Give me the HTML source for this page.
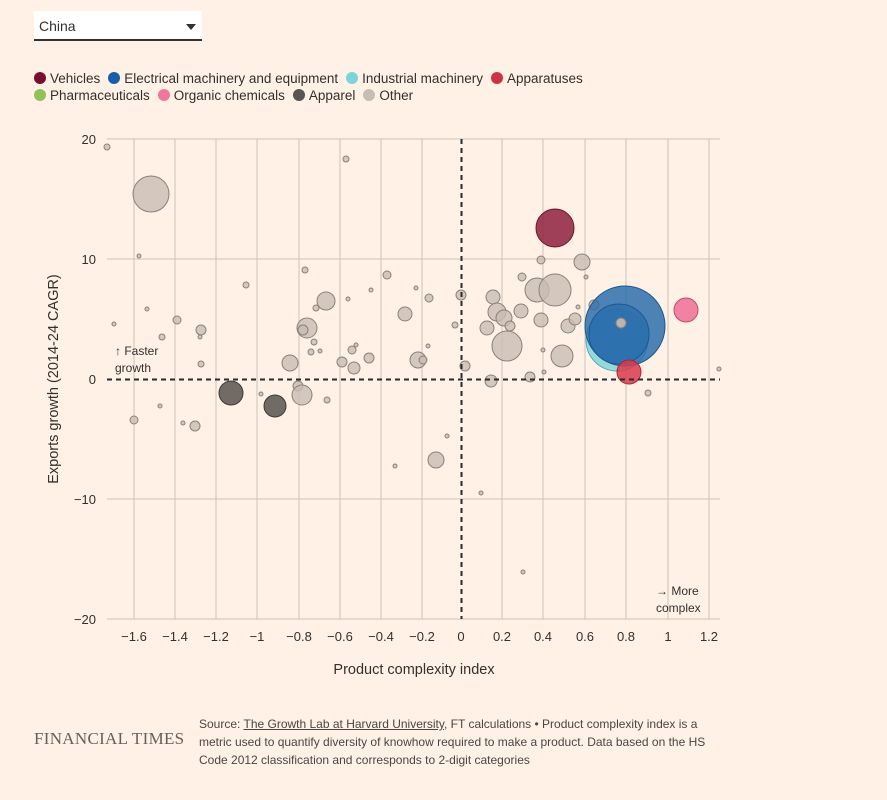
<!DOCTYPE html>
<html><head><style>
body{margin:0;background:#fff1e5;width:887px;height:800px;font-family:"Liberation Sans",sans-serif;color:#33302e;overflow:hidden;position:relative}
.sel{position:absolute;left:34px;top:11px;width:168px;height:30px;background:#fff;border-bottom:2px solid #33302e;font-size:14px;line-height:30px;padding-left:5px;box-sizing:border-box}
.sel:after{content:"";position:absolute;right:6px;top:13px;border:5px solid transparent;border-top:6px solid #33302e}
.leg{position:absolute;left:34px;font-size:13.5px;white-space:nowrap}
.leg span{display:inline-block;width:12px;height:12px;border-radius:50%;vertical-align:-1px;margin-right:4px}
.leg b{font-weight:normal;margin-right:8px}
.src{position:absolute;left:199px;top:715px;font-size:12px;line-height:18px;width:525px;color:#4a4644}
.ft{position:absolute;left:34px;top:729px;font-family:"Liberation Serif",serif;font-size:17px;color:#66605c;letter-spacing:.3px}
</style></head><body>
<div class="sel">China</div>
<div class="leg" style="top:71px"><span style="background:#7a0d2c"></span><b>Vehicles</b><span style="background:#1b5ea8"></span><b>Electrical machinery and equipment</b><span style="background:#7ad6db"></span><b>Industrial machinery</b><span style="background:#cc3345"></span><b>Apparatuses</b></div>
<div class="leg" style="top:88px"><span style="background:#92c15a"></span><b>Pharmaceuticals</b><span style="background:#f0779b"></span><b>Organic chemicals</b><span style="background:#585450"></span><b>Apparel</b><span style="background:#c8bdb4"></span><b>Other</b></div>
<svg width="887" height="800" style="position:absolute;left:0;top:0" font-family="Liberation Sans,sans-serif">
<g stroke="#cdc2b8" stroke-width="1">
<line x1="107" x2="720" y1="139" y2="139"/><line x1="107" x2="720" y1="259" y2="259"/><line x1="107" x2="720" y1="499" y2="499"/><line x1="107" x2="720" y1="619" y2="619"/>
<line x1="134" x2="134" y1="139" y2="619"/><line x1="175" x2="175" y1="139" y2="619"/><line x1="216" x2="216" y1="139" y2="619"/><line x1="257" x2="257" y1="139" y2="619"/><line x1="299" x2="299" y1="139" y2="619"/><line x1="340" x2="340" y1="139" y2="619"/><line x1="381" x2="381" y1="139" y2="619"/><line x1="422" x2="422" y1="139" y2="619"/><line x1="502" x2="502" y1="139" y2="619"/><line x1="543" x2="543" y1="139" y2="619"/><line x1="585" x2="585" y1="139" y2="619"/><line x1="626" x2="626" y1="139" y2="619"/><line x1="668" x2="668" y1="139" y2="619"/><line x1="709" x2="709" y1="139" y2="619"/>
</g>
<g font-size="13" fill="#33302e" text-anchor="end">
<text x="96" y="144">20</text><text x="96" y="264">10</text><text x="96" y="384">0</text><text x="96" y="504">−10</text><text x="96" y="624">−20</text></g>
<g font-size="13" fill="#33302e" text-anchor="middle">
<text x="134" y="641">−1.6</text><text x="175" y="641">−1.4</text><text x="216" y="641">−1.2</text><text x="257" y="641">−1</text><text x="299" y="641">−0.8</text><text x="340" y="641">−0.6</text><text x="381" y="641">−0.4</text><text x="422" y="641">−0.2</text><text x="461" y="641">0</text><text x="502" y="641">0.2</text><text x="543" y="641">0.4</text><text x="585" y="641">0.6</text><text x="626" y="641">0.8</text><text x="668" y="641">1</text><text x="709" y="641">1.2</text></g>
<text x="414" y="674" font-size="14.5" text-anchor="middle" fill="#33302e">Product complexity index</text>
<text transform="translate(58,379) rotate(-90)" font-size="14.5" text-anchor="middle" fill="#33302e">Exports growth (2014-24 CAGR)</text>
<g fill="#33302e" font-size="12"><text x="115" y="355">↑ Faster</text><text x="115" y="372">growth</text><text x="656" y="595">→ More</text><text x="656" y="612">complex</text></g>
<g fill="#c8bdb4" fill-opacity="0.8" stroke="#8a817a" stroke-width="1">
<circle cx="107" cy="147" r="3"/><circle cx="151" cy="194" r="18"/><circle cx="139" cy="256" r="2"/><circle cx="114" cy="324" r="2"/><circle cx="147" cy="309" r="2"/><circle cx="177" cy="320" r="4"/><circle cx="162" cy="337" r="3"/><circle cx="201" cy="330" r="5"/><circle cx="201" cy="364" r="3"/><circle cx="200" cy="337" r="2"/><circle cx="134" cy="420" r="4"/><circle cx="160" cy="406" r="2"/><circle cx="195" cy="426" r="5"/><circle cx="183" cy="423" r="2"/><circle cx="246" cy="285" r="3"/><circle cx="290" cy="363" r="8"/><circle cx="261" cy="394" r="2"/><circle cx="298" cy="386" r="5"/><circle cx="302" cy="395" r="10"/><circle cx="305" cy="270" r="3"/><circle cx="316" cy="308" r="3"/><circle cx="326" cy="301" r="9"/><circle cx="307" cy="328" r="10"/><circle cx="303" cy="330" r="5"/><circle cx="320" cy="351" r="2"/><circle cx="314" cy="342" r="3"/><circle cx="311" cy="352" r="3"/><circle cx="327" cy="400" r="3"/><circle cx="342" cy="362" r="5"/><circle cx="354" cy="368" r="6"/><circle cx="348" cy="299" r="2"/><circle cx="352" cy="350" r="4"/><circle cx="356" cy="345" r="2"/><circle cx="369" cy="358" r="5"/><circle cx="371" cy="290" r="2"/><circle cx="387" cy="275" r="4"/><circle cx="405" cy="314" r="7"/><circle cx="418" cy="360" r="8"/><circle cx="423" cy="360" r="4"/><circle cx="428" cy="346" r="2"/><circle cx="416" cy="288" r="2"/><circle cx="429" cy="298" r="4"/><circle cx="455" cy="325" r="3"/><circle cx="461" cy="295" r="5"/><circle cx="465" cy="366" r="5"/><circle cx="447" cy="436" r="2"/><circle cx="436" cy="460" r="8"/><circle cx="395" cy="466" r="2"/><circle cx="346" cy="159" r="3"/><circle cx="481" cy="493" r="2"/><circle cx="491" cy="381" r="6"/><circle cx="487" cy="328" r="7"/><circle cx="493" cy="297" r="7"/><circle cx="497" cy="312" r="9"/><circle cx="504" cy="318" r="8"/><circle cx="507" cy="346" r="15"/><circle cx="510" cy="326" r="5"/><circle cx="521" cy="311" r="7"/><circle cx="522" cy="277" r="4"/><circle cx="530" cy="377" r="5"/><circle cx="541" cy="320" r="7"/><circle cx="537" cy="290" r="12"/><circle cx="555" cy="290" r="16"/><circle cx="541" cy="260" r="4"/><circle cx="543" cy="350" r="2"/><circle cx="544" cy="372" r="2"/><circle cx="562" cy="356" r="11"/><circle cx="568" cy="326" r="7"/><circle cx="575" cy="319" r="6"/><circle cx="582" cy="262" r="8"/><circle cx="586" cy="277" r="2"/><circle cx="523" cy="572" r="2"/><circle cx="648" cy="393" r="3"/><circle cx="719" cy="369" r="2"/><circle cx="578" cy="307" r="2"/><circle cx="594" cy="305" r="5"/>
</g>
<g fill="#585450" fill-opacity="0.85" stroke="#3d3935"><circle cx="231" cy="393" r="12"/><circle cx="275" cy="406" r="11"/></g>
<circle cx="555" cy="228" r="19" fill="#8f2140" fill-opacity="0.85" stroke="#6a1530"/>
<circle cx="617" cy="340" r="31" fill="#79d3d9" fill-opacity="0.8" stroke="#5ab"/>
<circle cx="625" cy="326" r="40" fill="#2e6fac" fill-opacity="0.85" stroke="#1e5690"/>
<circle cx="619" cy="334" r="30" fill="#2a6eae" fill-opacity="0.8" stroke="#1e5690"/>
<circle cx="621" cy="323" r="5" fill="#bbb5b0" stroke="#8a817a"/>
<circle cx="686" cy="310" r="12" fill="#ee6e95" fill-opacity="0.85" stroke="#b5506f"/>
<circle cx="629" cy="372" r="12" fill="#d93a4c" fill-opacity="0.85" stroke="#a02a38"/>
<line x1="107" x2="720" y1="379.5" y2="379.5" stroke="#262a33" stroke-width="2" stroke-dasharray="5,4"/>
<line x1="461.5" x2="461.5" y1="139" y2="619" stroke="#262a33" stroke-width="2" stroke-dasharray="5,4"/>
</svg>
<div class="ft">FINANCIAL TIMES</div>
<div class="src">Source: <u>The Growth Lab at Harvard University</u>, FT calculations • Product complexity index is a metric used to quantify diversity of knowhow required to make a product. Data based on the HS Code 2012 classification and corresponds to 2-digit categories</div>
</body></html>
